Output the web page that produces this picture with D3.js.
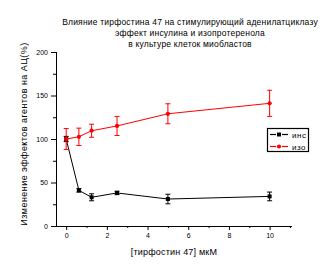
<!DOCTYPE html>
<html>
<head>
<meta charset="utf-8">
<script src="https://cdn.jsdelivr.net/npm/d3@7"></script>
<style>
  body { margin: 0; background: #fff; }
  svg text { font-family: "Liberation Sans", Arial, sans-serif; fill: #000; }
</style>
</head>
<body>
<svg id="chart" width="332" height="274"></svg>
<script>
"use strict";

// concentrations of tyrphostin 47, uM
const doses = [0, 0.625, 1.25, 2.5, 5, 10];
// insulin effect, % and error
const insMean = [100, 41, 33, 38, 31, 34];
const insErr  = [3, 2, 4, 2, 5.5, 5];
// isoproterenol effect, % and error
const isoMean = [100, 102.5, 109.5, 115, 129, 141];
const isoErr  = [12, 10, 7.5, 11, 11.5, 15];

const xTicks = [0, 2, 4, 6, 8, 10];
const xMinor = [1, 3, 5, 7, 9, 11];
const yTicks = [0, 50, 100, 150, 200];
const yMinor = [25, 75, 125, 175];

const titleLines = [
  "Влияние тирфостина 47 на стимулирующий аденилатциклазу",
  "эффект инсулина и изопротеренола",
  "в культуре клеток миобластов"
];
const xLabel = "[тирфостин 47] мкМ";
const yLabel = "Изменение эффектов агентов на АЦ(%)";

const series = [
  {name: "инс", mean: insMean, err: insErr, color: "#000", marker: "square"},
  {name: "изо", mean: isoMean, err: isoErr, color: "#f00", marker: "circle"}
];

const svg = d3.select("#chart");

let x = d3.scaleLinear().domain([-0.5, 11.1]).range([56, 292]);
let y = d3.scaleLinear().domain([0, 200]).range([226, 52]);

// title
svg.append("g").selectAll("text")
  .data(titleLines)
  .join("text")
  .attr("x", 190)
  .attr("y", (d, i) => 25 + i * 11)
  .attr("text-anchor", "middle")
  .attr("font-size", 8.5)
  .attr("letter-spacing", 0.2)
  .text(d => d);

// axes
svg.append("g").attr("transform", "translate(0,226)")
  .call(d3.axisBottom(x).tickValues(xTicks).tickSize(4).tickPadding(3).tickFormat(d3.format("d")));
svg.append("g").attr("transform", "translate(0,226)")
  .call(d3.axisBottom(x).tickValues(xMinor).tickSize(2).tickFormat(""))
  .select(".domain").remove();

let yAxis = svg.append("g").attr("transform", "translate(56,0)")
  .call(d3.axisLeft(y).tickValues(yTicks).tickSize(5).tickPadding(3));
svg.append("g").attr("transform", "translate(56,0)")
  .call(d3.axisLeft(y).tickValues(yMinor).tickSize(3).tickFormat(""))
  .select(".domain").remove();

svg.selectAll(".domain").attr("d", function() {
  return this.parentNode === yAxis.node() ? "M0.5,52V226.5" : "M56,0.5H292";
});
svg.selectAll(".tick line").attr("stroke", "#000");
svg.selectAll(".tick text").attr("font-size", 7).attr("font-family", "Liberation Sans, Arial, sans-serif");

// axis titles
svg.append("text")
  .attr("x", 174).attr("y", 255)
  .attr("text-anchor", "middle")
  .attr("font-size", 9)
  .attr("letter-spacing", 0.2)
  .text(xLabel);

svg.append("text")
  .attr("transform", "translate(27,134) rotate(-90)")
  .attr("text-anchor", "middle")
  .attr("font-size", 9)
  .attr("letter-spacing", 0.45)
  .text(yLabel);

// series
let line = d3.line().x(d => x(d.x)).y(d => y(d.y));

series.forEach(s => {
  let pts = doses.map((d, i) => ({x: d, y: s.mean[i], e: s.err[i]}));
  let g = svg.append("g");

  g.append("path")
    .datum(pts)
    .attr("fill", "none")
    .attr("stroke", s.color)
    .attr("stroke-width", 1)
    .attr("d", line);

  let eb = g.selectAll(".eb").data(pts).join("g").attr("class", "eb")
    .attr("stroke", s.color).attr("stroke-width", 1);
  eb.append("line")
    .attr("x1", d => x(d.x)).attr("x2", d => x(d.x))
    .attr("y1", d => y(d.y - d.e)).attr("y2", d => y(d.y + d.e));
  eb.append("line")
    .attr("x1", d => x(d.x) - 2.5).attr("x2", d => x(d.x) + 2.5)
    .attr("y1", d => y(d.y - d.e)).attr("y2", d => y(d.y - d.e));
  eb.append("line")
    .attr("x1", d => x(d.x) - 2.5).attr("x2", d => x(d.x) + 2.5)
    .attr("y1", d => y(d.y + d.e)).attr("y2", d => y(d.y + d.e));

  let sym = d3.symbol().type(s.marker === "square" ? d3.symbolSquare : d3.symbolCircle)
    .size(s.marker === "square" ? 16 : 14);
  g.selectAll(".pt").data(pts).join("path").attr("class", "pt")
    .attr("transform", d => `translate(${x(d.x)},${y(d.y)})`)
    .attr("d", sym)
    .attr("fill", s.color);
});

// legend
let lg = svg.append("g").attr("transform", "translate(267,128)");
lg.append("rect")
  .attr("x", 0.5).attr("y", 0.5).attr("width", 41).attr("height", 23)
  .attr("fill", "#fff").attr("stroke", "#000").attr("stroke-width", 1.2);
series.forEach((s, i) => {
  let cy = 6.5 + i * 12;
  lg.append("line").attr("x1", 3).attr("x2", 9).attr("y1", cy).attr("y2", cy)
    .attr("stroke", s.color).attr("stroke-width", 1.2);
  lg.append("line").attr("x1", 15).attr("x2", 21).attr("y1", cy).attr("y2", cy)
    .attr("stroke", s.color).attr("stroke-width", 1.2);
  lg.append("path")
    .attr("transform", `translate(12,${cy})`)
    .attr("d", d3.symbol().type(s.marker === "square" ? d3.symbolSquare : d3.symbolCircle)
      .size(s.marker === "square" ? 16 : 14))
    .attr("fill", s.color);
  lg.append("text").attr("x", 25).attr("y", cy + 3)
    .attr("font-size", 8).attr("letter-spacing", 0.5)
    .text(s.name);
});
</script>
</body>
</html>
